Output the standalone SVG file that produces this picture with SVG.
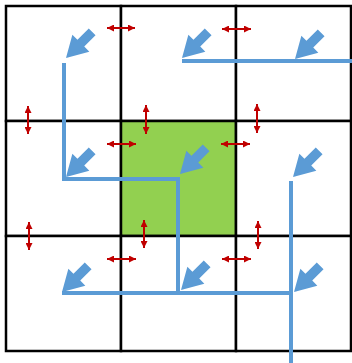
<svg xmlns="http://www.w3.org/2000/svg" xmlns:xlink="http://www.w3.org/1999/xlink" width="352" height="363" viewBox="0 0 352 363">
<style>
.cell{fill:#ffffff;stroke:#000000;stroke-width:2.5}
.hot{fill:#92d050}
.flow{fill:none;stroke:#5b9bd5;stroke-width:4;stroke-linejoin:miter}
.dbl{stroke:#c00000;stroke-width:2;fill:none;marker-start:url(#rh);marker-end:url(#rh)}
.barrow{fill:#5b9bd5}
</style>
<defs>
<marker id="rh" markerUnits="userSpaceOnUse" markerWidth="8" markerHeight="7" refX="7" refY="3.5" orient="auto-start-reverse">
<path d="M0,0 L7,3.5 L0,7 z" fill="#c00000"/>
</marker>
<path id="ba" d="M0,0 L-21,-12 L-21,-4.8 L-37,-4.8 L-37,4.8 L-21,4.8 L-21,12 z"/>
</defs>
<rect width="352" height="363" fill="#ffffff"/>
<g id="cells">
<g id="c11"><rect class="cell" x="6" y="6" width="115" height="115"/></g>
<g id="c12"><rect class="cell" x="121" y="6" width="115" height="115"/></g>
<g id="c13"><rect class="cell" x="236" y="6" width="115" height="115"/></g>
<g id="c21"><rect class="cell" x="6" y="121" width="115" height="115"/></g>
<g id="c22"><rect class="cell hot" x="121" y="121" width="115" height="115"/></g>
<g id="c23"><rect class="cell" x="236" y="121" width="115" height="115"/></g>
<g id="c31"><rect class="cell" x="6" y="236" width="115" height="115"/></g>
<g id="c32"><rect class="cell" x="121" y="236" width="115" height="115"/></g>
<g id="c33"><rect class="cell" x="236" y="236" width="115" height="115"/></g>
</g>
<g id="connectors">
<polyline class="flow" points="64,63 64,179 178,179 178,293"/>
<polyline class="flow" points="62,293 291,293"/>
<polyline class="flow" points="291,181 291,363"/>
<polyline class="flow" points="182,61 352,61"/>
<g class="barrow">
<use xlink:href="#ba" transform="translate(66,58) rotate(135)"/>
<use xlink:href="#ba" transform="translate(182,58) rotate(135)"/>
<use xlink:href="#ba" transform="translate(295,59) rotate(135)"/>
<use xlink:href="#ba" transform="translate(66,177) rotate(135)"/>
<use xlink:href="#ba" transform="translate(180,174) rotate(135)"/>
<use xlink:href="#ba" transform="translate(293,177) rotate(135)"/>
<use xlink:href="#ba" transform="translate(62,292) rotate(135)"/>
<use xlink:href="#ba" transform="translate(181,290) rotate(135)"/>
<use xlink:href="#ba" transform="translate(294,292) rotate(135)"/>
</g>
<line class="dbl" x1="107" y1="28" x2="135" y2="28"/>
<line class="dbl" x1="222" y1="29" x2="251" y2="29"/>
<line class="dbl" x1="107" y1="144" x2="136" y2="144"/>
<line class="dbl" x1="221" y1="144" x2="250" y2="144"/>
<line class="dbl" x1="107" y1="259" x2="136" y2="259"/>
<line class="dbl" x1="222" y1="259" x2="251" y2="259"/>
<line class="dbl" x1="28" y1="106" x2="28" y2="134"/>
<line class="dbl" x1="146" y1="105" x2="146" y2="134"/>
<line class="dbl" x1="257" y1="104" x2="257" y2="133"/>
<line class="dbl" x1="29" y1="222" x2="29" y2="250"/>
<line class="dbl" x1="144" y1="220" x2="144" y2="248"/>
<line class="dbl" x1="258" y1="221" x2="258" y2="249"/>
</g>
</svg>
